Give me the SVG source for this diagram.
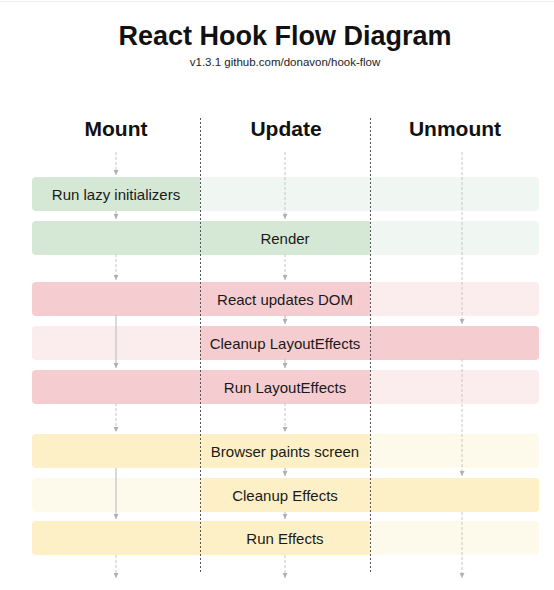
<svg xmlns="http://www.w3.org/2000/svg" xmlns:xlink="http://www.w3.org/1999/xlink" width="554" height="590" viewBox="0 0 554 590">
<style>
  text { font-family: "Liberation Sans", Arial, Helvetica, sans-serif; fill: #111; }
  .title { font-size: 27px; font-weight: bold; text-anchor: middle; }
  .sub { font-size: 11.5px; text-anchor: middle; fill: #222; }
  .col { font-size: 21px; font-weight: bold; text-anchor: middle; }
  .lbl { font-size: 15px; text-anchor: middle; fill: #1a1a1a; }
  .gs { fill: #d5e8d5; } .gl { fill: #f0f6f1; }
  .rs { fill: #f5cdd0; } .rl { fill: #fbeced; }
  .ys { fill: #fdf0c6; } .yl { fill: #fefaeb; }
  .dash { stroke: #c6c6c6; stroke-width: 1; stroke-dasharray: 3 2; fill: none; marker-end: url(#ah); }
  .solid { stroke: #c2c2c2; stroke-width: 1.2; fill: none; marker-end: url(#ah); }
  .div { stroke: #555; stroke-width: 1; stroke-dasharray: 2 2; fill: none; }
</style>
<defs>
  <marker id="ah" viewBox="0 0 5 5" refX="5" refY="2.5" markerWidth="5" markerHeight="5" markerUnits="userSpaceOnUse" orient="auto">
    <path d="M0,0 L5,2.5 L0,5 z" fill="#b0b0b0"/>
  </marker>
  <path id="L" d="M200,0 H36 A4,4 0 0 0 32,4 V30 A4,4 0 0 0 36,34 H200 Z"/>
  <rect id="M" x="200" y="0" width="170" height="34"/>
  <path id="R" d="M370,0 H535 A4,4 0 0 1 539,4 V30 A4,4 0 0 1 535,34 H370 Z"/>
</defs>
<rect width="554" height="590" fill="#fff"/>
<line x1="0" y1="1.5" x2="554" y2="1.5" stroke="#eeeeee" stroke-width="1"/>

<g id="header">
  <text class="title" x="285" y="45">React Hook Flow Diagram</text>
  <text class="sub" x="285" y="66">v1.3.1 github.com/donavon/hook-flow</text>
  <text class="col" x="116" y="136">Mount</text>
  <text class="col" x="286" y="136">Update</text>
  <text class="col" x="455" y="136">Unmount</text>
</g>

<g id="row-lazy" transform="translate(0,177)">
  <use xlink:href="#L" class="gs"/><use xlink:href="#M" class="gl"/><use xlink:href="#R" class="gl"/>
  <text class="lbl" x="116" y="22.5">Run lazy initializers</text>
</g>
<g id="row-render" transform="translate(0,221)">
  <use xlink:href="#L" class="gs"/><use xlink:href="#M" class="gs"/><use xlink:href="#R" class="gl"/>
  <text class="lbl" x="285" y="22.5">Render</text>
</g>
<g id="row-dom" transform="translate(0,282)">
  <use xlink:href="#L" class="rs"/><use xlink:href="#M" class="rs"/><use xlink:href="#R" class="rl"/>
  <text class="lbl" x="285" y="22.5">React updates DOM</text>
</g>
<g id="row-cleanup-layout" transform="translate(0,326)">
  <use xlink:href="#L" class="rl"/><use xlink:href="#M" class="rs"/><use xlink:href="#R" class="rs"/>
  <text class="lbl" x="285" y="22.5">Cleanup LayoutEffects</text>
</g>
<g id="row-run-layout" transform="translate(0,370)">
  <use xlink:href="#L" class="rs"/><use xlink:href="#M" class="rs"/><use xlink:href="#R" class="rl"/>
  <text class="lbl" x="285" y="22.5">Run LayoutEffects</text>
</g>
<g id="row-paint" transform="translate(0,434)">
  <use xlink:href="#L" class="ys"/><use xlink:href="#M" class="ys"/><use xlink:href="#R" class="yl"/>
  <text class="lbl" x="285" y="22.5">Browser paints screen</text>
</g>
<g id="row-cleanup-effects" transform="translate(0,478)">
  <use xlink:href="#L" class="yl"/><use xlink:href="#M" class="ys"/><use xlink:href="#R" class="ys"/>
  <text class="lbl" x="285" y="22.5">Cleanup Effects</text>
</g>
<g id="row-run-effects" transform="translate(0,521)">
  <use xlink:href="#L" class="ys"/><use xlink:href="#M" class="ys"/><use xlink:href="#R" class="yl"/>
  <text class="lbl" x="285" y="22.5">Run Effects</text>
</g>

<g id="connectors">
  <!-- Mount -->
  <line class="dash" x1="116" y1="152" x2="116" y2="175"/>
  <line class="solid" x1="116" y1="211" x2="116" y2="219"/>
  <line class="dash" x1="116" y1="254" x2="116" y2="280"/>
  <line class="solid" x1="116" y1="315" x2="116" y2="368"/>
  <line class="dash" x1="116" y1="403" x2="116" y2="432"/>
  <line class="solid" x1="116" y1="468" x2="116" y2="519"/>
  <line class="dash" x1="116" y1="555" x2="116" y2="578"/>
  <!-- Update -->
  <line class="dash" x1="285" y1="152" x2="285" y2="219"/>
  <line class="dash" x1="285" y1="254" x2="285" y2="280"/>
  <line class="solid" x1="285" y1="315" x2="285" y2="324"/>
  <line class="solid" x1="285" y1="359" x2="285" y2="368"/>
  <line class="dash" x1="285" y1="403" x2="285" y2="432"/>
  <line class="solid" x1="285" y1="468" x2="285" y2="476"/>
  <line class="solid" x1="285" y1="512" x2="285" y2="519"/>
  <line class="dash" x1="285" y1="555" x2="285" y2="578"/>
  <!-- Unmount -->
  <line class="dash" x1="462" y1="152" x2="462" y2="324"/>
  <line class="dash" x1="462" y1="359" x2="462" y2="476"/>
  <line class="dash" x1="462" y1="512" x2="462" y2="578"/>
</g>

<g id="dividers">
  <line class="div" x1="200.5" y1="118" x2="200.5" y2="573"/>
  <line class="div" x1="370.5" y1="118" x2="370.5" y2="573"/>
</g>
</svg>
